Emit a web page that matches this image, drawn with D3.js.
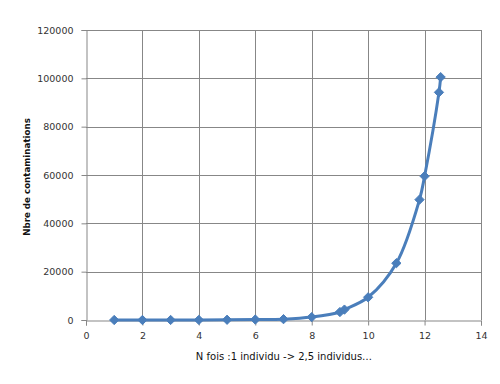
<!DOCTYPE html>
<html><head><meta charset="utf-8">
<script src="https://cdn.jsdelivr.net/npm/d3@7/dist/d3.min.js"></script>
<style>body{margin:0;background:#fff}svg{display:block}</style>
</head><body>
<svg id="c" width="500" height="384"></svg>
<script>
const xValues = [1, 2, 3, 4, 5, 6, 7, 8, 9, 9.16, 10, 11, 11.82, 12, 12.51, 12.57];
const yValues = [3, 6, 16, 39, 98, 200, 350, 1200, 3300, 4300, 9400, 23500, 49800, 59500, 94200, 100500];
const xTicks = [0, 2, 4, 6, 8, 10, 12, 14];
const yTicks = [0, 20000, 40000, 60000, 80000, 100000, 120000];
const xTitle = "N fois :1 individu -> 2,5 individus…";
const yTitle = "Nbre de contaminations";

const svg = d3.select("#c");
const L = 86, R = 481, T = 30, B = 320;
const x = d3.scaleLinear().domain([0, 14]).range([L, R]);
const y = d3.scaleLinear().domain([0, 120000]).range([B, T]);
const font = "'DejaVu Sans', sans-serif";

// gridlines
svg.append("g").selectAll("line").data(yTicks.filter(d => d > 0)).join("line")
  .attr("x1", L).attr("x2", R).attr("y1", d => Math.round(y(d)) + 0.5).attr("y2", d => Math.round(y(d)) + 0.5)
  .attr("stroke", "#878787").attr("stroke-width", 1);
svg.append("g").selectAll("line").data(xTicks.filter(d => d > 0)).join("line")
  .attr("y1", T).attr("y2", B).attr("x1", d => Math.round(x(d)) + 0.5).attr("x2", d => Math.round(x(d)) + 0.5)
  .attr("stroke", "#878787").attr("stroke-width", 1);

// axes
const xAxis = d3.axisBottom(x).tickValues(xTicks).tickSize(5).tickPadding(7);
const gx = svg.append("g").attr("transform", `translate(0,${B + 0.5})`).call(xAxis);
const yAxis = d3.axisLeft(y).tickValues(yTicks).tickSize(5).tickPadding(8).tickFormat(d3.format("d"));
const gy = svg.append("g").attr("transform", `translate(${L + 0.5},0)`).call(yAxis);
[gx, gy].forEach(g => {
  g.select(".domain").attr("stroke", "#878787");
  g.selectAll(".tick line").attr("stroke", "#878787");
  g.selectAll(".tick text").attr("font-family", font).attr("font-size", 9.5).attr("fill", "#333");
});

// titles
svg.append("text").attr("x", 284).attr("y", 360).attr("text-anchor", "middle")
  .attr("font-family", font).attr("font-size", 10).attr("fill", "#111").text(xTitle);
svg.append("text").attr("transform", "translate(30,177) rotate(-90)").attr("text-anchor", "middle")
  .attr("font-family", font).attr("font-size", 8.7).attr("font-weight", "bold").attr("fill", "#111").text(yTitle);

// series
const data = xValues.map((d, i) => [d, yValues[i]]);
const color = "#4a7ebb";
svg.append("path").datum(data)
  .attr("d", d3.line().x(d => x(d[0])).y(d => y(d[1])).curve(d3.curveCatmullRom.alpha(0.5)))
  .attr("fill", "none").attr("stroke", color).attr("stroke-width", 3).attr("stroke-linejoin", "round");
svg.append("g").selectAll("path").data(data).join("path")
  .attr("transform", d => `translate(${x(d[0])},${y(d[1])})`)
  .attr("d", d3.symbol(d3.symbolDiamond2, 55))
  .attr("fill", color).attr("stroke", color).attr("stroke-width", 1);
</script>
</body></html>
